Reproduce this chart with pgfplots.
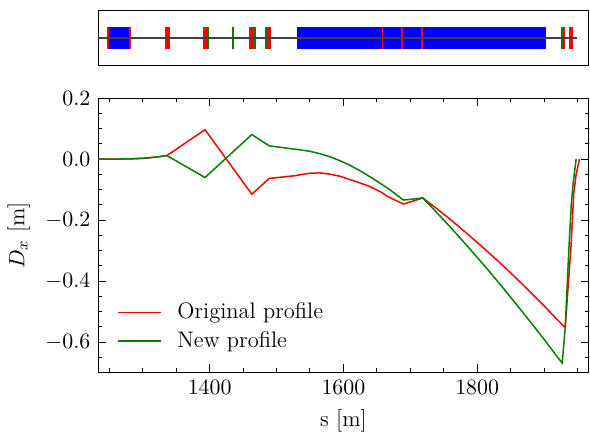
\documentclass[border=0pt]{standalone}
\usepackage{pgfplots}
\pgfplotsset{compat=1.18}
\definecolor{lgreen}{RGB}{0,128,0}
\definecolor{lred}{RGB}{255,0,0}
\definecolor{lblue}{RGB}{0,0,255}
% one lattice element: colour, start s, end s
\newcommand{\elem}[3]{\addplot[fill=#1, draw=none, forget plot] coordinates {(#2,-1) (#3,-1) (#3,1) (#2,1)} -- cycle;}
\begin{document}
\fontsize{11.25}{13.5}\selectfont
\begin{tikzpicture}
\useasboundingbox (-49.15pt,-29.75pt) rectangle (245.85pt,186.25pt);
% --- lattice strip ---
\begin{axis}[at={(0,153.6pt)}, anchor=south west, scale only axis,
  width=245.2pt, height=27.3pt,
  xmin=1233.4, xmax=1966.8, ymin=-2.416, ymax=2.416,
  xtick=\empty, ytick=\empty,
  axis line style={line width=0.6pt}]
  \elem{lblue}{1247}{1281}
  \elem{lblue}{1531.2}{1902.8}
  \elem{lred}{1245.9}{1249}
  \elem{lred}{1279.5}{1282.7}
  \elem{lred}{1332.7}{1340.6}
  \elem{lred}{1389.6}{1396.5}
  \elem{lred}{1459.3}{1466.3}
  \elem{lred}{1482.8}{1484.5}
  \elem{lred}{1486.5}{1491.8}
  \elem{lred}{1657.5}{1659.5}
  \elem{lred}{1686.5}{1688.5}
  \elem{lred}{1716.3}{1718.3}
  \elem{lred}{1927.7}{1931.7}
  \elem{lred}{1938.6}{1942.6}
  \elem{lgreen}{1396.5}{1399}
  \elem{lgreen}{1434}{1436.6}
  \elem{lgreen}{1466.3}{1468.8}
  \elem{lgreen}{1484.5}{1486.5}
  \elem{lgreen}{1925.3}{1927.7}
  \elem{lgreen}{1936.6}{1938.6}
  \addplot[black!75, line width=0.8pt, forget plot] coordinates {(1233.4,0) (1949,0)};
\end{axis}
% --- dispersion ---
\begin{axis}[at={(0,0)}, anchor=south west, scale only axis,
  width=245.2pt, height=137.1pt,
  xmin=1233.4, xmax=1966.8, ymin=-0.7, ymax=0.2,
  xtick={1400,1600,1800},
  minor xtick={1250,1300,1350,1450,1500,1550,1650,1700,1750,1850,1900,1950},
  ytick={-0.6,-0.4,-0.2,0,0.2},
  minor ytick={-0.65,-0.55,-0.5,-0.45,-0.35,-0.3,-0.25,-0.15,-0.1,-0.05,0.05,0.1,0.15},
  xticklabel style={/pgf/number format/set thousands separator={}},
  yticklabel style={/pgf/number format/fixed, /pgf/number format/fixed zerofill,
    /pgf/number format/precision=1},
  scaled y ticks=false,
  tick align=inside, tick pos=both,
  major tick length=4pt, minor tick length=2pt,
  every tick/.style={black, line width=0.5pt},
  axis line style={line width=0.6pt},
  xlabel={s [m]}, ylabel={$D_x$ [m]},
  legend style={draw=none, fill=none, at={(0.025,0.05)}, anchor=south west,
    row sep=0.5pt},
  legend cell align=left,
  legend image code/.code={\draw[#1] (0pt,0pt) -- (21.7pt,0pt); \path (27.5pt,0pt);},
]
\addplot[lred, line width=0.75pt] coordinates {
(1233.4,0.000) (1280,0.001) (1300,0.003) (1320,0.007) (1336,0.012)
(1393,0.097) (1463,-0.115) (1489,-0.063) (1528,-0.054) (1540,-0.049)
(1550,-0.046) (1565,-0.045) (1580,-0.049) (1595,-0.056) (1610,-0.067)
(1625,-0.078) (1640,-0.090) (1658,-0.110) (1665,-0.121) (1678,-0.135)
(1689.7,-0.147) (1703,-0.138) (1718.7,-0.127) (1740,-0.163) (1760,-0.198)
(1780,-0.235) (1800,-0.273) (1820,-0.312) (1840,-0.352) (1860,-0.394)
(1880,-0.437) (1900,-0.481) (1920,-0.527) (1931.7,-0.553) (1940.5,-0.280)
(1944.5,-0.110) (1948,-0.050) (1953,0.000)
};
\addlegendentry{Original profile}
\addplot[lgreen, line width=0.75pt] coordinates {
(1233.4,0.000) (1280,0.001) (1300,0.003) (1320,0.007) (1336,0.012)
(1393,-0.060) (1463,0.081) (1489,0.044) (1520,0.035) (1535,0.031)
(1550,0.026) (1565,0.018) (1580,0.008) (1595,-0.005) (1610,-0.020)
(1625,-0.038) (1640,-0.058) (1655,-0.079) (1670,-0.101) (1689.7,-0.134)
(1703,-0.131) (1718.7,-0.127) (1740,-0.176) (1760,-0.223) (1780,-0.272)
(1800,-0.322) (1820,-0.373) (1840,-0.426) (1860,-0.480) (1880,-0.535)
(1900,-0.591) (1920,-0.649) (1927.2,-0.669) (1931.7,-0.553) (1937.5,-0.280)
(1941,-0.140) (1943.5,-0.080) (1948,0.000)
};
\addlegendentry{New profile}
\end{axis}
\end{tikzpicture}
\end{document}
